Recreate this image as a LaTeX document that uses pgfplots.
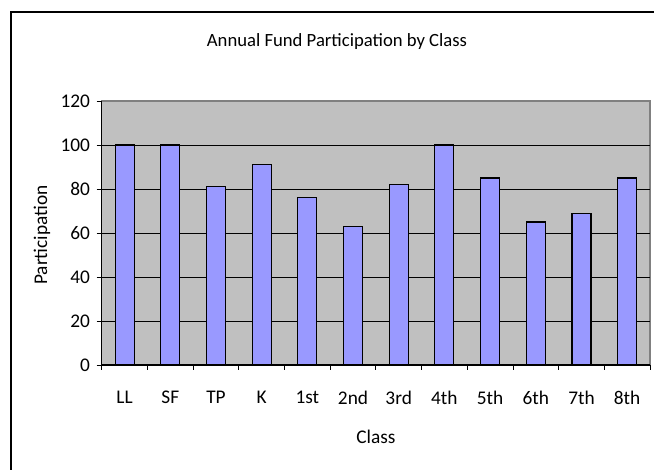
\documentclass[border=0pt]{standalone}
\usepackage{pgfplots}
\pgfplotsset{compat=1.18}
\usepackage{pgfplotstable}
\usepackage{fontspec}
\setmainfont{Carlito}
\definecolor{plotbg}{HTML}{C0C0C0}
\definecolor{barfill}{HTML}{9999FF}
\definecolor{frame}{HTML}{808080}
\pgfplotstableread{
x y
0.5 100
1.5 100
2.5 81
3.5 91
4.5 76
5.5 63
6.5 82
7.5 100
8.5 85
9.5 65
10.5 69
11.5 85
}\datatable
\begin{document}
\begin{tikzpicture}[x=0.75pt,y=0.75pt]
\useasboundingbox (0,0) rectangle (654,470);
\clip (0,0) rectangle (654,470);
\fill[white] (0,0) rectangle (654,470);
\draw[black, line width=0.8pt] (11,458) rectangle (720,-60);
\begin{axis}[
  at={(76.3pt,78.75pt)}, anchor=south west,
  scale only axis,
  width=411.2pt, height=198pt,
  xmin=0, xmax=12, ymin=0, ymax=120,
  axis x line=bottom, axis y line=left,
  axis line style={-, black, line width=0.8pt},
  axis background/.style={fill=plotbg, draw=frame, line width=0.8pt},
  ytick={0,20,...,100},
  extra y ticks={120},
  extra y tick style={grid=none},
  ymajorgrids=true,
  grid style={black, line width=0.6pt},
  xtick={0.5,1.5,...,11.5},
  xticklabels={LL,SF,TP,K,1st,2nd,3rd,4th,5th,6th,7th,8th},
  major x tick style={draw=none},
  minor xtick={0,1,...,12},
  tick align=outside,
  major tick length=3.75pt,
  minor tick length=3.75pt,
  tick style={black, line width=0.6pt},
  ticklabel style={font=\fontsize{14.5}{16}\selectfont},
  /pgf/number format/assume math mode=true,
  yticklabel style={xshift=-1.5pt},
  xticklabel style={yshift=-12pt},
  clip=false,
]
\addplot[ybar, bar width=14.25pt, fill=barfill, draw=black, line width=0.8pt] table[x=x,y=y] {\datatable};
\end{axis}
\node[anchor=base, font=\fontsize{14}{16}\selectfont] at (337,423.3) {Annual Fund Participation by Class};
\node[anchor=base, font=\fontsize{14.5}{16}\selectfont] at (376,26) {Class};
\node[anchor=base, rotate=90, font=\fontsize{14.5}{16}\selectfont] at (47,235) {Participation};
\end{tikzpicture}
\end{document}
